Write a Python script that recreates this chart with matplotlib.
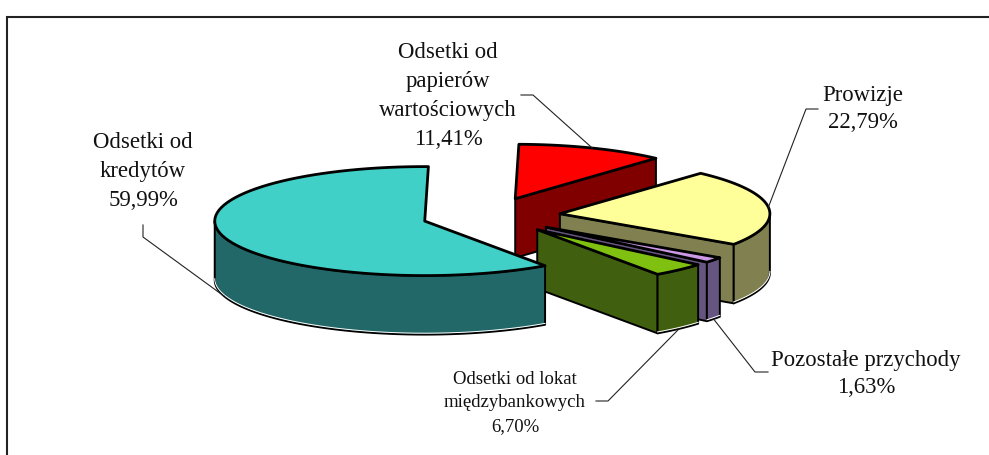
import matplotlib
matplotlib.use("Agg")
import matplotlib.pyplot as plt
import numpy as np

# clockwise from the top, same order as on the chart
categories = ["Odsetki od\npapierów\nwartościowych\n11,41%", "Prowizje\n22,79%",
              "Pozostałe przychody\n1,63%", "Odsetki od lokat\nmiędzybankowych\n6,70%",
              "Odsetki od\nkredytów\n59,99%"]
# drawn shares, the lokat slice is narrower on the picture than its 6,70% label
shares = [11.41, 22.79, 1.63, 4.18, 59.99]
explode = [0.34, 0.34, 0.34, 0.34, 0.32]
top_colors = ["#FF0000", "#FFFF99", "#CC99E6", "#80C010", "#40D0C8"]
side_colors = ["#800000", "#808050", "#665580", "#406010", "#226868"]
label_xy = [(448, 96), (863, 109), (866, 374), (515, 403), (143, 172)]
label_size = [16.4, 16.4, 16.4, 13.5, 16.4]
label_space = [1.5, 1.38, 1.38, 1.52, 1.5]
elbows = [[(521, 96), (533, 96)], [(818, 110), (806, 110)], [(768, 373), (755, 373)],
          [(596, 402), (608, 402)], [(143, 226), (143, 238)]]
draw_order = [0, 1, 2, 3, 4]

center = (489, 217)
rx, ry, depth = 210, 54.5, 59
start = 1.0

plt.rcParams['font.family'] = ['Liberation Serif', 'DejaVu Serif']
fig = plt.figure(figsize=(9.89, 4.56), dpi=100)
ax = fig.add_axes([0, 0, 1, 1])
ax.set_xlim(0, 989)
ax.set_ylim(456, 0)
ax.axis("off")
# the frame runs off the picture on the right and at the bottom
ax.add_patch(plt.Rectangle((6.5, 18), 1000, 460, fc="white", ec="#222222", lw=1.5))

angles = np.cumsum([0] + shares) * 3.6 + start


def rim(apex, a):
    r = np.radians(a)
    return apex[0] + rx * np.sin(r), apex[1] - ry * np.cos(r)


def arc(apex, a0, a1):
    t = np.linspace(a0, a1, 80)
    x, y = rim(apex, t)
    return np.column_stack([x, y])


apexes = []
for i in range(len(shares)):
    mid = np.radians((angles[i] + angles[i + 1]) / 2)
    apexes.append((center[0] + explode[i] * rx * np.sin(mid),
                   center[1] - explode[i] * ry * np.cos(mid)))

for i in draw_order:
    a0, a1 = angles[i], angles[i + 1]
    apex = apexes[i]
    down = np.array([0, depth])
    # end wall of the slice, visible on the right half only
    if np.sin(np.radians(a1)) > 0.02:
        end = np.array(rim(apex, a1))
        wall = np.array([apex, end, end + down, np.array(apex) + down])
        ax.fill(wall[:, 0], wall[:, 1], fc=side_colors[i], ec="black", lw=1.4, joinstyle="round")
    # outer wall, only the front part of the rim
    f0, f1 = max(a0, 90), min(a1, 270)
    if f1 > f0:
        pts = arc(apex, f0, f1)
        wall = np.vstack([pts, pts[::-1] + down])
        ax.fill(wall[:, 0], wall[:, 1], fc=side_colors[i], ec="black", lw=1.4, joinstyle="round")
        # thin light line just inside the lower edge
        ax.plot(pts[:, 0], pts[:, 1] + depth - 1.4, color="white", lw=0.7)
    top = np.vstack([[apex], arc(apex, a0, a1)])
    ax.fill(top[:, 0], top[:, 1], fc=top_colors[i], ec="black", lw=2.0, joinstyle="round")

for i, name in enumerate(categories):
    mid = (angles[i] + angles[i + 1]) / 2
    x, y = rim(apexes[i], mid)
    if np.cos(np.radians(mid)) < 0:
        y += depth
    pts = elbows[i] + [(x, y)]
    ax.plot([p[0] for p in pts], [p[1] for p in pts], color="#222222", lw=0.8, zorder=5)
    ax.text(label_xy[i][0], label_xy[i][1], name, ha="center", va="center", multialignment="center",
            fontsize=label_size[i], linespacing=label_space[i], color="#111111", zorder=6)

fig.savefig("out.png", dpi=100)
